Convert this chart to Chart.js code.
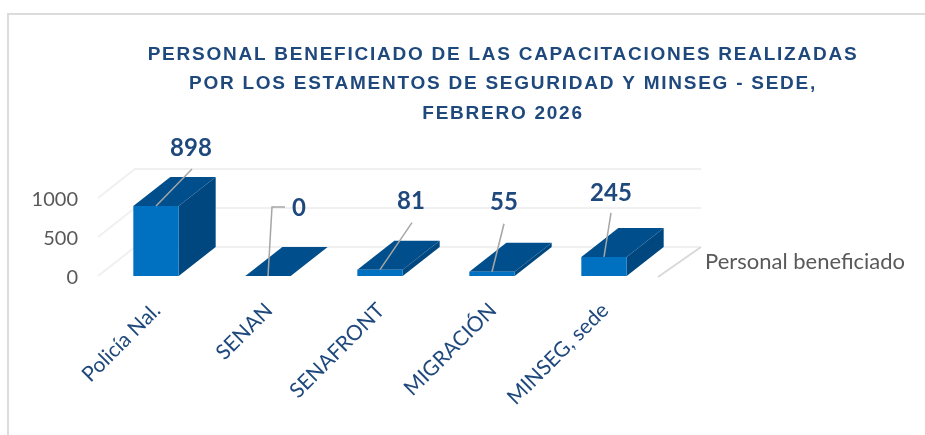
<!DOCTYPE html>
<html lang="es">
<head>
<meta charset="utf-8">
<title>Personal beneficiado</title>
<script src="https://cdn.jsdelivr.net/npm/chart.js@4"></script>
<style>
    html, body { margin: 0; background: #fff; overflow: hidden; }
    #marco { position: absolute; left: 7px; top: 13px; right: -5px; bottom: -5px; border: 2px solid #dcdcdc; }
    canvas { position: absolute; left: 0; top: 0; }
</style>
</head>
<body>
<div id="marco"></div>
<canvas id="grafico" width="925" height="435"></canvas>
<script>
// Datos
const categorias = ['Policía Nal.', 'SENAN', 'SENAFRONT', 'MIGRACIÓN', 'MINSEG, sede'];
const valores = [898, 0, 81, 55, 245];
const marcasEje = [0, 500, 1000];
const nombreSerie = 'Personal beneficiado';
const titulo = [
    'PERSONAL BENEFICIADO DE LAS CAPACITACIONES REALIZADAS',
    'POR LOS ESTAMENTOS DE SEGURIDAD Y MINSEG - SEDE,',
    'FEBRERO 2026'
];

// Profundidad del efecto 3D
const FONDO_X = 37;
const FONDO_Y = -29;

// Desplazamiento de cada etiqueta y de su línea guía respecto a la barra
const desplEtiquetas = [
    { tx: 35, ty: -58, lx: 36, ly: -37 },
    { tx: 31, ty: -68, lx: 17, ly: -69, codo: true },
    { tx: 31, ty: -68, lx: 32, ly: -47 },
    { tx: 12, ty: -69, lx: 12, ly: -48 },
    { tx: 7, ty: -64, lx: 7, ly: -44 }
];

// Paredes del fondo: las líneas de rejilla van detrás de las barras
const paredes = {
    id: 'paredes',
    beforeDatasetsDraw(chart) {
        const { ctx, scales: { x, y } } = chart;
        ctx.save();
        ctx.strokeStyle = '#f0f0f0';
        ctx.lineWidth = 2;
        marcasEje.forEach(v => {
            const py = y.getPixelForValue(v);
            ctx.beginPath();
            ctx.moveTo(x.left - 2, py);
            ctx.lineTo(x.left + FONDO_X - 2, py + FONDO_Y);
            ctx.lineTo(x.right + FONDO_X + 4, py + FONDO_Y);
            ctx.stroke();
        });
        // pie del eje de profundidad
        const base = y.getPixelForValue(0);
        ctx.strokeStyle = '#d9d9d9';
        ctx.beginPath();
        ctx.moveTo(x.right - 2, base + 1);
        ctx.lineTo(x.right + FONDO_X + 4, base + FONDO_Y);
        ctx.stroke();
        ctx.restore();
    }
};

// Caras superior y lateral de cada barra
const caras3d = {
    id: 'caras3d',
    beforeDatasetDraw(chart) {
        const { ctx } = chart;
        ctx.save();
        chart.getDatasetMeta(0).data.forEach(bar => {
            const izq = bar.x - bar.width / 2;
            const der = bar.x + bar.width / 2;
            ctx.fillStyle = '#004f8c';
            ctx.beginPath();
            ctx.moveTo(izq, bar.y);
            ctx.lineTo(izq + FONDO_X, bar.y + FONDO_Y);
            ctx.lineTo(der + FONDO_X, bar.y + FONDO_Y);
            ctx.lineTo(der, bar.y);
            ctx.closePath();
            ctx.fill();
            ctx.fillStyle = '#00477f';
            ctx.beginPath();
            ctx.moveTo(der, bar.y);
            ctx.lineTo(der + FONDO_X, bar.y + FONDO_Y);
            ctx.lineTo(der + FONDO_X, bar.base + FONDO_Y);
            ctx.lineTo(der, bar.base);
            ctx.closePath();
            ctx.fill();
        });
        ctx.restore();
    }
};

// Etiquetas de valor con línea guía y nombre de la serie
const etiquetas = {
    id: 'etiquetas',
    afterDatasetsDraw(chart) {
        const { ctx, scales: { x, y } } = chart;
        ctx.save();
        ctx.textAlign = 'center';
        ctx.textBaseline = 'middle';
        ctx.font = 'bold 24px Lato';
        chart.getDatasetMeta(0).data.forEach((bar, i) => {
            const d = desplEtiquetas[i];
            ctx.strokeStyle = '#a6a6a6';
            ctx.lineWidth = 1.5;
            ctx.beginPath();
            ctx.moveTo(bar.x, bar.y);
            if (d.codo) {
                ctx.lineTo(bar.x + 4, bar.y + d.ly);
            }
            ctx.lineTo(bar.x + d.lx, bar.y + d.ly);
            ctx.stroke();
            ctx.fillStyle = '#1f497d';
            ctx.fillText(String(valores[i]), bar.x + d.tx, bar.y + d.ty);
        });
        ctx.font = '22px Lato';
        ctx.fillStyle = '#595959';
        ctx.textAlign = 'left';
        ctx.fillText(nombreSerie, x.right + 45, y.getPixelForValue(0) - 14);
        ctx.restore();
    }
};

// El título no está centrado en el lienzo y lleva espaciado entre letras
const ajusteTitulo = {
    id: 'ajusteTitulo',
    afterInit(chart) {
        const bloque = chart.titleBlock;
        const dibujar = bloque.draw;
        bloque.draw = function () {
            chart.ctx.letterSpacing = '1.75px';
            dibujar.call(this);
            chart.ctx.letterSpacing = '0px';
        };
    },
    afterLayout(chart) {
        chart.titleBlock.left = 81;
        chart.titleBlock.right = 925;
    }
};

new Chart(document.getElementById('grafico'), {
    type: 'bar',
    data: {
        labels: categorias,
        datasets: [{
            label: nombreSerie,
            data: valores,
            backgroundColor: '#0070c0',
            borderWidth: 0,
            barPercentage: 0.405,
            categoryPercentage: 1
        }]
    },
    plugins: [paredes, caras3d, etiquetas, ajusteTitulo],
    options: {
        responsive: false,
        animation: false,
        layout: { padding: { left: 0, right: 265, top: 0, bottom: 0 } },
        plugins: {
            legend: { display: false },
            tooltip: { enabled: false },
            title: {
                display: true,
                text: titulo,
                color: '#1f497d',
                font: { family: 'Liberation Sans', size: 19, weight: 'bold', lineHeight: 1.553 },
                padding: { top: 40, bottom: 69.5 }
            }
        },
        scales: {
            x: {
                grid: { display: false, drawTicks: false },
                border: { display: false },
                afterFit(scale) { scale.height = 159; },
                ticks: {
                    color: '#1f497d',
                    font: { family: 'Lato', size: 21 },
                    minRotation: 45,
                    maxRotation: 45,
                    autoSkip: false,
                    labelOffset: 1,
                    padding: 22
                }
            },
            y: {
                min: 0,
                max: 1000,
                grid: { display: false, drawTicks: false },
                border: { display: false },
                afterFit(scale) { scale.width = 100; },
                afterBuildTicks(scale) { scale.ticks = marcasEje.map(v => ({ value: v })); },
                ticks: {
                    color: '#595959',
                    font: { family: 'Lato', size: 20 },
                    padding: 22,
                    labelOffset: 2,
                    callback: v => String(v)
                }
            }
        }
    }
});
</script>
</body>
</html>
